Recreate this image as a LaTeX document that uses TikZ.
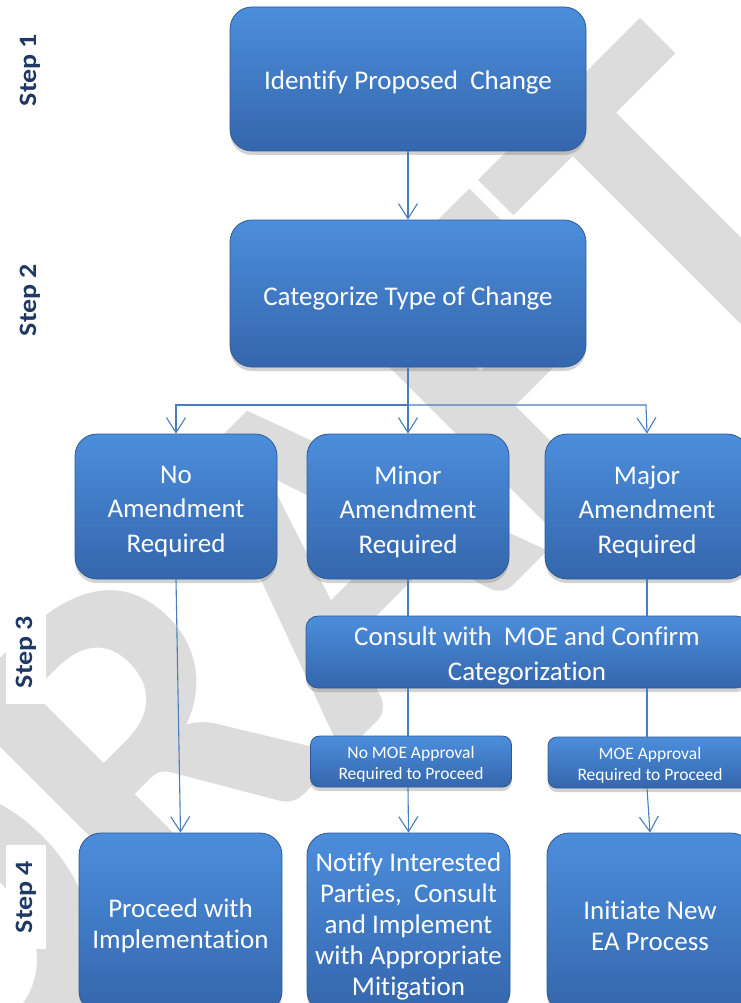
\documentclass[tikz,border=0pt]{standalone}
\usepackage{fontspec}
\setmainfont{Carlito}[Ligatures=NoCommon]
\usetikzlibrary{arrows.meta,shadows}
\definecolor{boxtop}{RGB}{76,142,220}
\definecolor{boxbot}{RGB}{52,102,172}
\definecolor{boxedge}{RGB}{45,90,150}
\definecolor{linecol}{RGB}{74,126,187}
\definecolor{stepcol}{RGB}{31,56,100}
\definecolor{wmgray}{RGB}{220,220,220}
\tikzset{
  bluebox/.style={rounded corners=22pt, top color=boxtop, bottom color=boxbot,
    draw=boxedge, line width=0.8pt, inner sep=0pt,
    drop shadow={shadow xshift=0pt, shadow yshift=-4pt, opacity=0.35}},
  smallbox/.style={bluebox, rounded corners=9pt},
  widebox/.style={bluebox, rounded corners=12pt},
  btxt/.style={text=white, align=center, inner sep=0pt, font=\fontsize{27}{34.5}\selectfont},
  lowtxt/.style={btxt, font=\fontsize{27}{31}\selectfont},
  smalltxt/.style={btxt, font=\fontsize{17.5}{20.5}\selectfont},
  conn/.style={draw=linecol, line width=1.1pt},
  arr/.style={conn, -{Straight Barb[length=15pt,width=19pt,line width=1.1pt]}},
  steplabel/.style={rotate=90, text=stepcol, font=\bfseries\fontsize{25}{25}\selectfont, inner sep=0pt},
  wmtext/.style={text=wmgray, font=\bfseries\fontsize{480}{480}\selectfont, inner sep=0pt}
}
\begin{document}
\begin{tikzpicture}[x=1pt,y=-1pt]
\useasboundingbox (0,0) rectangle (740,1003);
\fill[white] (0,0) rectangle (740,1003);
\begin{scope}
\clip (0,0) rectangle (740,1003);
\node[wmtext, anchor=base east, rotate=45] (draft) at (864,235) {D\kern-6pt R\kern-7pt A\kern-7pt F\kern-4pt T};
\end{scope}

% step labels
\node[steplabel] (s1) at (30,70) {\scalebox{1.12}[1]{Step 1}};
\node[steplabel] (s2) at (30,300) {\scalebox{1.12}[1]{Step 2}};
\node[steplabel, fill=white, inner xsep=16pt, inner ysep=10pt] (s3) at (26,652) {\scalebox{1.12}[1]{Step 3}};
\node[steplabel, fill=white, inner xsep=16pt, inner ysep=10pt] (s4) at (26,897) {\scalebox{1.12}[1]{Step 4}};

% boxes
\node[bluebox, minimum width=356, minimum height=144] (identify) at (408,79) {};
\node[bluebox, minimum width=356, minimum height=147] (categ) at (408,293.5) {};
\node[bluebox, minimum width=202, minimum height=145] (noam) at (176,506.5) {};
\node[bluebox, minimum width=202, minimum height=145] (minor) at (408,506.5) {};
\node[bluebox, minimum width=204, minimum height=145] (major) at (647,506.5) {};
\node[widebox, minimum width=442, minimum height=72] (consult) at (527,652) {};
\node[smallbox, minimum width=201, minimum height=51] (nomoe) at (411,761.5) {};
\node[smallbox, minimum width=204, minimum height=51] (moe) at (650,762.5) {};
\node[bluebox, minimum width=203, minimum height=180] (proceed) at (180.5,923) {};
\node[bluebox, minimum width=203, minimum height=180] (notify) at (408.5,923) {};
\node[bluebox, minimum width=206, minimum height=180] (initiate) at (650,923) {};

% box texts
\node[btxt] (identify-t) at ([yshift=-3pt]identify.center) {Identify Proposed\ \ Change};
\node[btxt] (categ-t) at ([yshift=-5pt]categ.center) {Categorize Type of Change};
\node[btxt] (noam-t) at ([yshift=-5pt]noam.center) {No\\Amendment\\Required};
\node[btxt] (minor-t) at ([yshift=-5pt]minor.center) {Minor\\Amendment\\Required};
\node[btxt] (major-t) at ([yshift=-5pt]major.center) {Major\\Amendment\\Required};
\node[btxt] (consult-t) at ([yshift=-4pt]consult.center) {Consult with\ \ MOE and Confirm\\Categorization};
\node[smalltxt] (nomoe-t) at ([yshift=-3pt]nomoe.center) {No MOE Approval\\Required to Proceed};
\node[smalltxt] (moe-t) at ([yshift=-3pt]moe.center) {MOE Approval\\Required to Proceed};
\node[lowtxt] (proceed-t) at ([yshift=-3pt]proceed.center) {Proceed with\\Implementation};
\node[lowtxt] (notify-t) at ([yshift=-3pt]notify.center) {Notify Interested\\Parties,\ \ Consult\\and Implement\\with Appropriate\\Mitigation};
\node[lowtxt] (initiate-t) at ([yshift=-3pt]initiate.center) {Initiate New\\EA Process};

% connectors
\coordinate (bl) at (176,405);
\coordinate (br) at (646,405);
\draw[arr] (identify.south) -- (categ.north);
\draw[arr] (categ.south) -- (minor.north);
\draw[arr] (categ.south) |- (bl) -- (noam.north);
\draw[arr] (categ.south) |- (br) -- (major.north);
\draw[arr] (noam.south) -- (proceed.north);
\draw[conn] (minor.south) -- (minor.south |- consult.north);
\draw[conn] (major.south) -- (major.south |- consult.north);
\draw[conn] (minor.south |- consult.south) -- (minor.south |- nomoe.north);
\draw[conn] (major.south |- consult.south) -- (major.south |- moe.north);
\draw[arr] (minor.south |- nomoe.south) -- (notify.north);
\draw[arr] (major.south |- moe.south) -- (initiate.north);
\end{tikzpicture}
\end{document}
